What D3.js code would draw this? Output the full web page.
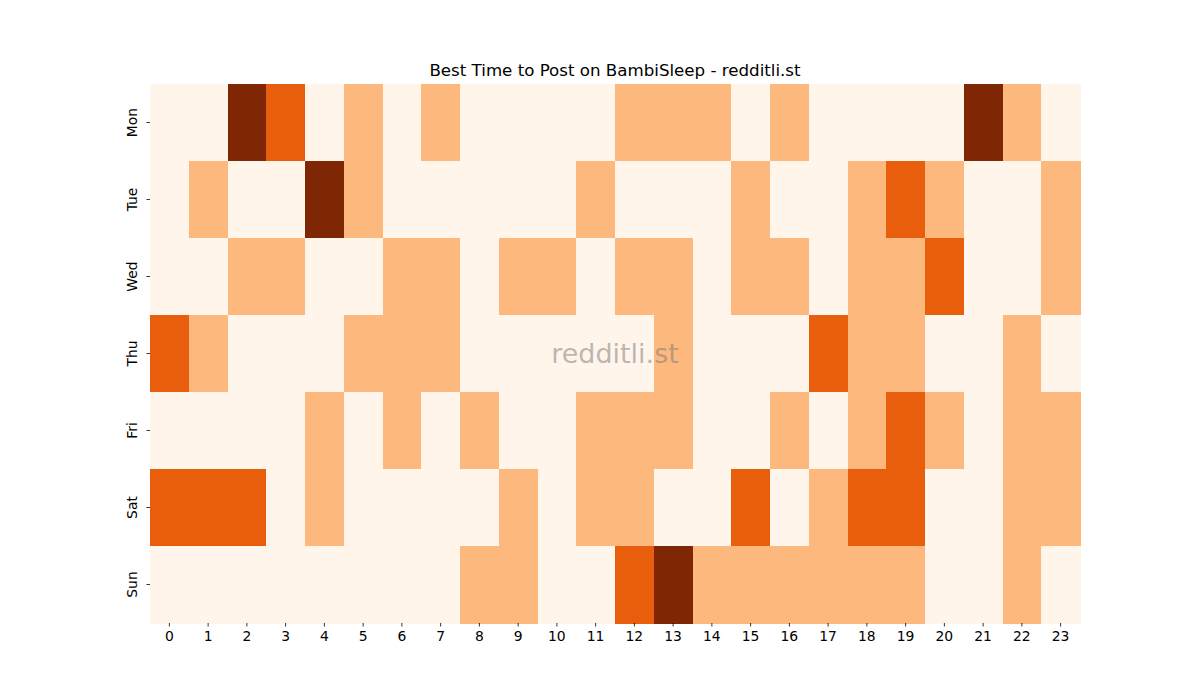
<!DOCTYPE html>
<html><head><meta charset="utf-8">
<script src="https://cdn.jsdelivr.net/npm/d3@7"></script>
<style>body{margin:0;background:#fff;font-family:"DejaVu Sans",sans-serif;}</style>
</head><body>
<svg id="chart" width="1200" height="700"></svg>
<script>
const days = ["Mon","Tue","Wed","Thu","Fri","Sat","Sun"];
const hours = ["0","1","2","3","4","5","6","7","8","9","10","11","12","13","14","15","16","17","18","19","20","21","22","23"];
const mon = [0,0,3,2,0,1,0,1,0,0,0,0,1,1,1,0,1,0,0,0,0,3,1,0];
const tue = [0,1,0,0,3,1,0,0,0,0,0,1,0,0,0,1,0,0,1,2,1,0,0,1];
const wed = [0,0,1,1,0,0,1,1,0,1,1,0,1,1,0,1,1,0,1,1,2,0,0,1];
const thu = [2,1,0,0,0,1,1,1,0,0,0,0,0,1,0,0,0,2,1,1,0,0,1,0];
const fri = [0,0,0,0,1,0,1,0,1,0,0,1,1,1,0,0,1,0,1,2,1,0,1,1];
const sat = [2,2,2,0,1,0,0,0,0,1,0,1,1,0,0,2,0,1,2,2,0,0,1,1];
const sun = [0,0,0,0,0,0,0,0,1,1,0,0,2,3,1,1,1,1,1,1,0,0,1,0];
const rows = [mon,tue,wed,thu,fri,sat,sun];
const title = "Best Time to Post on BambiSleep - redditli.st";
const watermark = "redditli.st";

const svg = d3.select("#chart");
const L = 150, R = 1080, T = 84, B = 623;
const x = d3.scaleBand().domain(hours).range([L, R]).padding(0);
const y = d3.scaleBand().domain(days).range([T, B]).padding(0);
const color = d3.scaleOrdinal().domain([0,1,2,3]).range(["#fff5eb","#fdb97d","#e95e0d","#7f2704"]);

const cells = [];
rows.forEach((r, i) => r.forEach((v, j) => cells.push({day: days[i], hour: hours[j], v})));
svg.append("g").selectAll("rect").data(cells).join("rect")
  .attr("x", d => x(d.hour)).attr("y", d => y(d.day))
  .attr("width", x.bandwidth() + 0.5).attr("height", y.bandwidth() + 0.5)
  .attr("fill", d => color(d.v)).attr("shape-rendering", "crispEdges");

const xa = svg.append("g").attr("transform", `translate(0,${B})`)
  .call(d3.axisBottom(x).tickSize(3.5).tickPadding(5));
xa.select(".domain").remove();
xa.selectAll("text").attr("font-size", 13.9).attr("font-family", "DejaVu Sans").attr("fill", "#000");
xa.selectAll("line").attr("stroke", "#000").attr("stroke-width", 0.8);

const ya = svg.append("g").attr("transform", `translate(${L},0)`)
  .call(d3.axisLeft(y).tickSize(3.5).tickPadding(5));
ya.select(".domain").remove();
ya.selectAll("line").attr("stroke", "#000").attr("stroke-width", 0.8);
ya.selectAll(".tick text").attr("font-size", 13.9).attr("font-family", "DejaVu Sans").attr("fill", "#000")
  .attr("text-anchor", "middle").attr("dy", 0).attr("x", 0).attr("y", 0)
  .attr("transform", "translate(-13,0) rotate(-90)");

svg.append("text").attr("x", (L + R) / 2).attr("y", 76).attr("text-anchor", "middle")
  .attr("font-size", 16.67).attr("font-family", "DejaVu Sans").attr("fill", "#000").text(title);

svg.append("text").attr("x", (L + R) / 2).attr("y", 363).attr("text-anchor", "middle")
  .attr("font-size", 27).attr("font-family", "DejaVu Sans").attr("fill", "#777").attr("fill-opacity", 0.5)
  .text(watermark);
</script>
</body></html>
